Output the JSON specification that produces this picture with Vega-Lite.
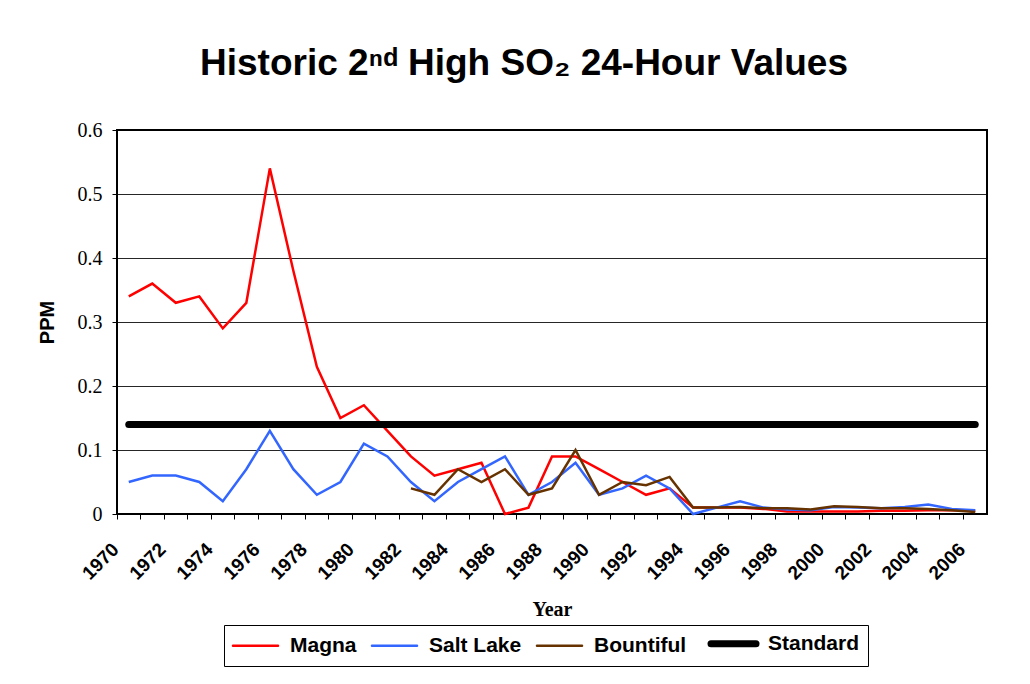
{
  "$schema": "https://vega.github.io/schema/vega-lite/v6.json",
  "width": 870,
  "height": 384,
  "autosize": {"type": "none"},
  "padding": {"left": 117, "top": 130, "right": 43, "bottom": 170},
  "background": "white",
  "title": {
    "text": "Historic 2ⁿᵈ High SO₂ 24-Hour Values",
    "font": "Liberation Sans",
    "fontSize": 37,
    "fontWeight": "bold",
    "color": "black",
    "anchor": "middle",
    "frame": "group",
    "baseline": "alphabetic",
    "offset": 8,
    "dx": -28
  },
  "config": {
    "view": {"stroke": "black", "strokeWidth": 2},
    "axis": {"domain": false, "tickColor": "black", "tickSize": 5, "labelColor": "black", "titleColor": "black"}
  },
  "data": {
    "values": [
      {"year": 1970, "series": "Magna", "ppm": 0.34},
      {"year": 1971, "series": "Magna", "ppm": 0.36},
      {"year": 1972, "series": "Magna", "ppm": 0.33},
      {"year": 1973, "series": "Magna", "ppm": 0.34},
      {"year": 1974, "series": "Magna", "ppm": 0.29},
      {"year": 1975, "series": "Magna", "ppm": 0.33},
      {"year": 1976, "series": "Magna", "ppm": 0.54},
      {"year": 1977, "series": "Magna", "ppm": 0.38},
      {"year": 1978, "series": "Magna", "ppm": 0.23},
      {"year": 1979, "series": "Magna", "ppm": 0.15},
      {"year": 1980, "series": "Magna", "ppm": 0.17},
      {"year": 1981, "series": "Magna", "ppm": 0.13},
      {"year": 1982, "series": "Magna", "ppm": 0.09},
      {"year": 1983, "series": "Magna", "ppm": 0.06},
      {"year": 1984, "series": "Magna", "ppm": 0.07},
      {"year": 1985, "series": "Magna", "ppm": 0.08},
      {"year": 1986, "series": "Magna", "ppm": 0.0},
      {"year": 1987, "series": "Magna", "ppm": 0.01},
      {"year": 1988, "series": "Magna", "ppm": 0.09},
      {"year": 1989, "series": "Magna", "ppm": 0.09},
      {"year": 1990, "series": "Magna", "ppm": 0.07},
      {"year": 1991, "series": "Magna", "ppm": 0.05},
      {"year": 1992, "series": "Magna", "ppm": 0.03},
      {"year": 1993, "series": "Magna", "ppm": 0.04},
      {"year": 1994, "series": "Magna", "ppm": 0.01},
      {"year": 1995, "series": "Magna", "ppm": 0.01},
      {"year": 1996, "series": "Magna", "ppm": 0.01},
      {"year": 1997, "series": "Magna", "ppm": 0.008},
      {"year": 1998, "series": "Magna", "ppm": 0.004},
      {"year": 1999, "series": "Magna", "ppm": 0.004},
      {"year": 2000, "series": "Magna", "ppm": 0.004},
      {"year": 2001, "series": "Magna", "ppm": 0.004},
      {"year": 2002, "series": "Magna", "ppm": 0.005},
      {"year": 2003, "series": "Magna", "ppm": 0.005},
      {"year": 2004, "series": "Magna", "ppm": 0.006},
      {"year": 2005, "series": "Magna", "ppm": 0.006},
      {"year": 2006, "series": "Magna", "ppm": 0.005},
      {"year": 1970, "series": "Salt Lake", "ppm": 0.05},
      {"year": 1971, "series": "Salt Lake", "ppm": 0.06},
      {"year": 1972, "series": "Salt Lake", "ppm": 0.06},
      {"year": 1973, "series": "Salt Lake", "ppm": 0.05},
      {"year": 1974, "series": "Salt Lake", "ppm": 0.02},
      {"year": 1975, "series": "Salt Lake", "ppm": 0.07},
      {"year": 1976, "series": "Salt Lake", "ppm": 0.13},
      {"year": 1977, "series": "Salt Lake", "ppm": 0.07},
      {"year": 1978, "series": "Salt Lake", "ppm": 0.03},
      {"year": 1979, "series": "Salt Lake", "ppm": 0.05},
      {"year": 1980, "series": "Salt Lake", "ppm": 0.11},
      {"year": 1981, "series": "Salt Lake", "ppm": 0.09},
      {"year": 1982, "series": "Salt Lake", "ppm": 0.05},
      {"year": 1983, "series": "Salt Lake", "ppm": 0.02},
      {"year": 1984, "series": "Salt Lake", "ppm": 0.05},
      {"year": 1985, "series": "Salt Lake", "ppm": 0.07},
      {"year": 1986, "series": "Salt Lake", "ppm": 0.09},
      {"year": 1987, "series": "Salt Lake", "ppm": 0.03},
      {"year": 1988, "series": "Salt Lake", "ppm": 0.05},
      {"year": 1989, "series": "Salt Lake", "ppm": 0.08},
      {"year": 1990, "series": "Salt Lake", "ppm": 0.03},
      {"year": 1991, "series": "Salt Lake", "ppm": 0.04},
      {"year": 1992, "series": "Salt Lake", "ppm": 0.06},
      {"year": 1993, "series": "Salt Lake", "ppm": 0.04},
      {"year": 1994, "series": "Salt Lake", "ppm": 0.0},
      {"year": 1995, "series": "Salt Lake", "ppm": 0.01},
      {"year": 1996, "series": "Salt Lake", "ppm": 0.02},
      {"year": 1997, "series": "Salt Lake", "ppm": 0.01},
      {"year": 1998, "series": "Salt Lake", "ppm": 0.007},
      {"year": 1999, "series": "Salt Lake", "ppm": 0.006},
      {"year": 2000, "series": "Salt Lake", "ppm": 0.011},
      {"year": 2001, "series": "Salt Lake", "ppm": 0.01},
      {"year": 2002, "series": "Salt Lake", "ppm": 0.009},
      {"year": 2003, "series": "Salt Lake", "ppm": 0.011},
      {"year": 2004, "series": "Salt Lake", "ppm": 0.015},
      {"year": 2005, "series": "Salt Lake", "ppm": 0.008},
      {"year": 2006, "series": "Salt Lake", "ppm": 0.006},
      {"year": 1982, "series": "Bountiful", "ppm": 0.04},
      {"year": 1983, "series": "Bountiful", "ppm": 0.03},
      {"year": 1984, "series": "Bountiful", "ppm": 0.07},
      {"year": 1985, "series": "Bountiful", "ppm": 0.05},
      {"year": 1986, "series": "Bountiful", "ppm": 0.07},
      {"year": 1987, "series": "Bountiful", "ppm": 0.03},
      {"year": 1988, "series": "Bountiful", "ppm": 0.04},
      {"year": 1989, "series": "Bountiful", "ppm": 0.10},
      {"year": 1990, "series": "Bountiful", "ppm": 0.03},
      {"year": 1991, "series": "Bountiful", "ppm": 0.05},
      {"year": 1992, "series": "Bountiful", "ppm": 0.045},
      {"year": 1993, "series": "Bountiful", "ppm": 0.058},
      {"year": 1994, "series": "Bountiful", "ppm": 0.01},
      {"year": 1995, "series": "Bountiful", "ppm": 0.01},
      {"year": 1996, "series": "Bountiful", "ppm": 0.011},
      {"year": 1997, "series": "Bountiful", "ppm": 0.009},
      {"year": 1998, "series": "Bountiful", "ppm": 0.009},
      {"year": 1999, "series": "Bountiful", "ppm": 0.007},
      {"year": 2000, "series": "Bountiful", "ppm": 0.012},
      {"year": 2001, "series": "Bountiful", "ppm": 0.011},
      {"year": 2002, "series": "Bountiful", "ppm": 0.009},
      {"year": 2003, "series": "Bountiful", "ppm": 0.009},
      {"year": 2004, "series": "Bountiful", "ppm": 0.008},
      {"year": 2005, "series": "Bountiful", "ppm": 0.006},
      {"year": 2006, "series": "Bountiful", "ppm": 0.003},
      {"year": 1970, "series": "Standard", "ppm": 0.14},
      {"year": 1971, "series": "Standard", "ppm": 0.14},
      {"year": 1972, "series": "Standard", "ppm": 0.14},
      {"year": 1973, "series": "Standard", "ppm": 0.14},
      {"year": 1974, "series": "Standard", "ppm": 0.14},
      {"year": 1975, "series": "Standard", "ppm": 0.14},
      {"year": 1976, "series": "Standard", "ppm": 0.14},
      {"year": 1977, "series": "Standard", "ppm": 0.14},
      {"year": 1978, "series": "Standard", "ppm": 0.14},
      {"year": 1979, "series": "Standard", "ppm": 0.14},
      {"year": 1980, "series": "Standard", "ppm": 0.14},
      {"year": 1981, "series": "Standard", "ppm": 0.14},
      {"year": 1982, "series": "Standard", "ppm": 0.14},
      {"year": 1983, "series": "Standard", "ppm": 0.14},
      {"year": 1984, "series": "Standard", "ppm": 0.14},
      {"year": 1985, "series": "Standard", "ppm": 0.14},
      {"year": 1986, "series": "Standard", "ppm": 0.14},
      {"year": 1987, "series": "Standard", "ppm": 0.14},
      {"year": 1988, "series": "Standard", "ppm": 0.14},
      {"year": 1989, "series": "Standard", "ppm": 0.14},
      {"year": 1990, "series": "Standard", "ppm": 0.14},
      {"year": 1991, "series": "Standard", "ppm": 0.14},
      {"year": 1992, "series": "Standard", "ppm": 0.14},
      {"year": 1993, "series": "Standard", "ppm": 0.14},
      {"year": 1994, "series": "Standard", "ppm": 0.14},
      {"year": 1995, "series": "Standard", "ppm": 0.14},
      {"year": 1996, "series": "Standard", "ppm": 0.14},
      {"year": 1997, "series": "Standard", "ppm": 0.14},
      {"year": 1998, "series": "Standard", "ppm": 0.14},
      {"year": 1999, "series": "Standard", "ppm": 0.14},
      {"year": 2000, "series": "Standard", "ppm": 0.14},
      {"year": 2001, "series": "Standard", "ppm": 0.14},
      {"year": 2002, "series": "Standard", "ppm": 0.14},
      {"year": 2003, "series": "Standard", "ppm": 0.14},
      {"year": 2004, "series": "Standard", "ppm": 0.14},
      {"year": 2005, "series": "Standard", "ppm": 0.14},
      {"year": 2006, "series": "Standard", "ppm": 0.14}
    ]
  },
  "encoding": {
    "x": {
      "field": "year",
      "type": "ordinal",
      "scale": {"type": "band", "paddingInner": 0, "paddingOuter": 0},
      "axis": {
        "title": "Year",
        "titleFont": "Liberation Serif",
        "titleFontSize": 20,
        "titleFontWeight": "bold",
        "titlePadding": 17,
        "bandPosition": 0,
        "grid": false,
        "labelExpr": "datum.value % 2 === 0 ? datum.label : ''",
        "labelOverlap": false,
        "labelAngle": -45,
        "labelAlign": "right",
        "labelBaseline": "middle",
        "labelFont": "Liberation Sans",
        "labelFontWeight": "bold",
        "labelFontSize": 19,
        "labelPadding": 27,
        "labelOffset": -13
      }
    },
    "y": {
      "field": "ppm",
      "type": "quantitative",
      "scale": {"domain": [0, 0.6], "nice": false, "zero": true},
      "axis": {
        "title": "PPM",
        "titleFont": "Liberation Sans",
        "titleFontSize": 20,
        "titleFontWeight": "bold",
        "titlePadding": 20,
        "values": [0, 0.1, 0.2, 0.3, 0.4, 0.5, 0.6],
        "format": ".1~f",
        "grid": true,
        "gridColor": "black",
        "gridWidth": 1,
        "gridOpacity": 0.85,
        "labelFont": "Liberation Serif",
        "labelFontSize": 20,
        "labelPadding": 10
      }
    },
    "color": {
      "field": "series",
      "type": "nominal",
      "scale": {
        "domain": ["Magna", "Salt Lake", "Bountiful", "Standard"],
        "range": ["#FF0000", "#3366FF", "#663300", "#000000"]
      },
      "legend": {
        "title": null,
        "orient": "none",
        "legendX": 107,
        "legendY": 495,
        "direction": "horizontal",
        "columns": 4,
        "strokeColor": "black",
        "padding": 8,
        "columnPadding": 10,
        "symbolType": "stroke",
        "symbolSize": 2025,
        "symbolStrokeWidth": 2.5,
        "symbolOffset": 13,
        "labelOffset": 24,
        "labelFont": "Liberation Sans",
        "labelFontWeight": "bold",
        "labelFontSize": 21,
        "labelColor": "black",
        "encode": {
          "symbols": {
            "update": {
              "strokeWidth": {"signal": "datum.value === 'Standard' ? 7 : 2.5"},
              "strokeCap": {"value": "round"}
            }
          }
        }
      }
    }
  },
  "layer": [
    {
      "transform": [{"filter": "datum.series !== 'Standard'"}],
      "mark": {"type": "line", "strokeWidth": 2.5}
    },
    {
      "transform": [{"filter": "datum.series === 'Standard'"}],
      "mark": {"type": "line", "strokeWidth": 7, "strokeCap": "round"}
    }
  ]
}
